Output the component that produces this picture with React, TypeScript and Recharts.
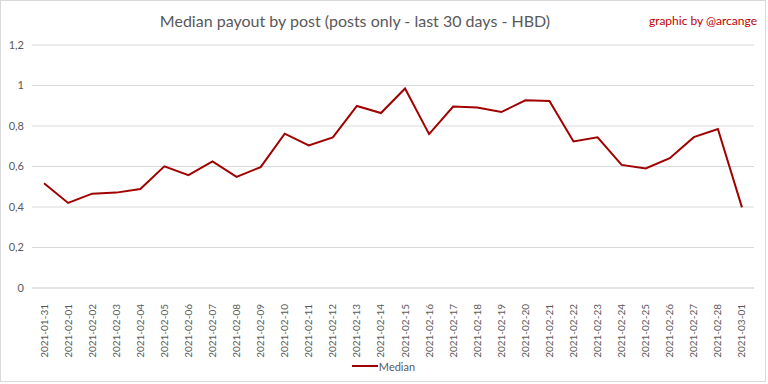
import { LineChart, Line, XAxis, YAxis, CartesianGrid, Legend } from 'recharts';

const dates = [
  '2021-01-31', '2021-02-01', '2021-02-02', '2021-02-03', '2021-02-04', '2021-02-05',
  '2021-02-06', '2021-02-07', '2021-02-08', '2021-02-09', '2021-02-10', '2021-02-11',
  '2021-02-12', '2021-02-13', '2021-02-14', '2021-02-15', '2021-02-16', '2021-02-17',
  '2021-02-18', '2021-02-19', '2021-02-20', '2021-02-21', '2021-02-22', '2021-02-23',
  '2021-02-24', '2021-02-25', '2021-02-26', '2021-02-27', '2021-02-28', '2021-03-01',
];

const median = [
  0.517, 0.42, 0.466, 0.471, 0.489, 0.601,
  0.557, 0.625, 0.549, 0.597, 0.762, 0.704,
  0.744, 0.899, 0.864, 0.985, 0.76, 0.896,
  0.891, 0.869, 0.927, 0.924, 0.724, 0.744,
  0.608, 0.59, 0.641, 0.745, 0.785, 0.398,
];

const yTicks = [0, 0.2, 0.4, 0.6, 0.8, 1, 1.2];

const FONT = 'Lato, "Open Sans", sans-serif';
const GRAY = '#595959';
const RED = '#a00000';

const data = dates.map((d, i) => ({ date: d, median: median[i] }));

const DateTick = ({ x, y, payload }: any) => (
  <g transform={`translate(${x},${y + 8})`}>
    <text
      x={0}
      y={0}
      dy="0.35em"
      textAnchor="end"
      transform="rotate(-90)"
      fontSize={10}
      fill={GRAY}
      fontFamily={FONT}
    >
      {payload.value}
    </text>
  </g>
);

const LegendContent = () => (
  <div style={{ display: 'flex', justifyContent: 'center', alignItems: 'center', height: 30, paddingLeft: 12 }}>
    <svg width={26} height={4} style={{ marginRight: 1 }}>
      <line x1={0} y1={2} x2={26} y2={2} stroke={RED} strokeWidth={2} />
    </svg>
    <span style={{ fontFamily: FONT, fontSize: 11, color: GRAY }}>Median</span>
  </div>
);

export default function App() {
  return (
    <div
      style={{
        position: 'absolute',
        left: 0,
        top: 0,
        width: 766,
        height: 382,
        border: '1px solid #d9d9d9',
        background: '#fff',
        boxSizing: 'border-box',
      }}
    >
      <div
        style={{
          position: 'absolute',
          left: 0,
          width: 708,
          top: 10,
          textAlign: 'center',
          fontFamily: FONT,
          fontSize: 16,
          color: GRAY,
        }}
      >
        Median payout by post (posts only - last 30 days - HBD)
      </div>
      <div
        style={{
          position: 'absolute',
          right: 8,
          top: 12,
          fontFamily: FONT,
          fontSize: 12,
          color: '#c00000',
        }}
      >
        graphic by @arcange
      </div>
      <LineChart
        width={764}
        height={380}
        data={data}
        margin={{ top: 44, right: 11, left: 0, bottom: 0 }}
      >
        <CartesianGrid vertical={false} stroke="#d9d9d9" />
        <XAxis
          dataKey="date"
          scale="band"
          interval={0}
          height={63}
          tickLine={false}
          axisLine={{ stroke: '#d9d9d9' }}
          tick={<DateTick />}
        />
        <YAxis
          width={31}
          domain={[0, 1.2]}
          ticks={yTicks}
          axisLine={false}
          tickLine={false}
          tick={{ fontSize: 11, fill: GRAY, fontFamily: FONT }}
          tickFormatter={(v: number) => String(v).replace('.', ',')}
        />
        <Line
          type="linear"
          dataKey="median"
          name="Median"
          stroke={RED}
          strokeWidth={2}
          dot={false}
          isAnimationActive={false}
        />
        <Legend verticalAlign="bottom" height={30} content={<LegendContent />} />
      </LineChart>
    </div>
  );
}
